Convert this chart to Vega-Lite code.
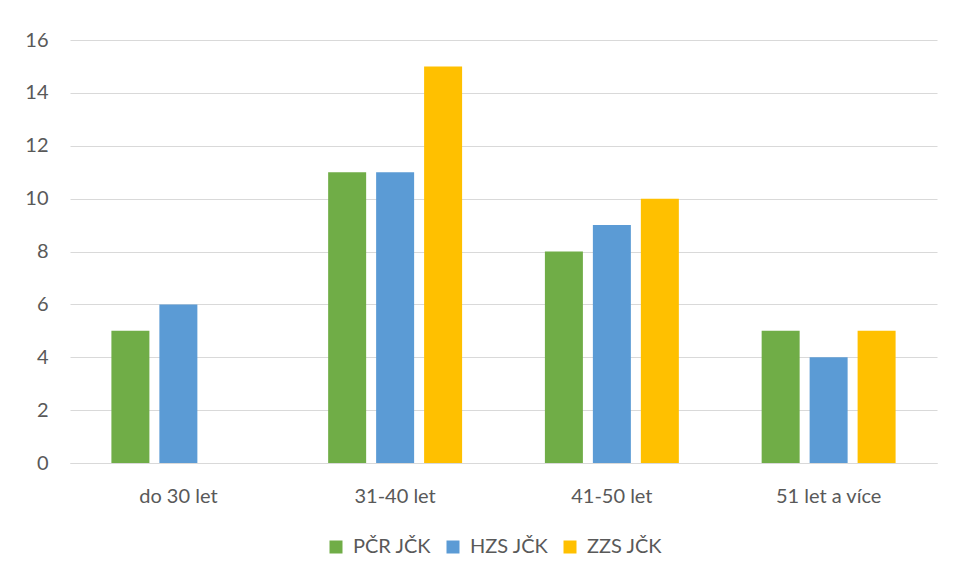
{
  "$schema": "https://vega.github.io/schema/vega-lite/v6.json",
  "width": 867,
  "height": 423,
  "autosize": {"type": "none"},
  "padding": {"left": 70, "top": 40, "right": 18, "bottom": 116},
  "background": "white",
  "data": {
    "values": [
      {"vek": "do 30 let", "slozka": "PČR JČK", "pocet": 5},
      {"vek": "do 30 let", "slozka": "HZS JČK", "pocet": 6},
      {"vek": "31-40 let", "slozka": "PČR JČK", "pocet": 11},
      {"vek": "31-40 let", "slozka": "HZS JČK", "pocet": 11},
      {"vek": "31-40 let", "slozka": "ZZS JČK", "pocet": 15},
      {"vek": "41-50 let", "slozka": "PČR JČK", "pocet": 8},
      {"vek": "41-50 let", "slozka": "HZS JČK", "pocet": 9},
      {"vek": "41-50 let", "slozka": "ZZS JČK", "pocet": 10},
      {"vek": "51 let a více", "slozka": "PČR JČK", "pocet": 5},
      {"vek": "51 let a více", "slozka": "HZS JČK", "pocet": 4},
      {"vek": "51 let a více", "slozka": "ZZS JČK", "pocet": 5}
    ]
  },
  "mark": {"type": "bar"},
  "encoding": {
    "x": {
      "field": "vek",
      "type": "nominal",
      "sort": ["do 30 let", "31-40 let", "41-50 let", "51 let a více"],
      "scale": {"paddingInner": 0.382, "paddingOuter": 0.191},
      "axis": {
        "title": null,
        "labelAngle": 0,
        "ticks": false,
        "domain": true,
        "domainColor": "#D9D9D9",
        "labelFont": "Lato",
        "labelFontSize": 20,
        "labelColor": "#595959",
        "labelPadding": 23
      }
    },
    "xOffset": {
      "field": "slozka",
      "type": "nominal",
      "sort": ["PČR JČK", "HZS JČK", "ZZS JČK"],
      "scale": {"paddingInner": 0.208, "paddingOuter": 0}
    },
    "y": {
      "field": "pocet",
      "type": "quantitative",
      "scale": {"domain": [0, 16], "nice": false},
      "axis": {
        "title": null,
        "values": [0, 2, 4, 6, 8, 10, 12, 14, 16],
        "domain": false,
        "ticks": false,
        "grid": true,
        "gridColor": "#D9D9D9",
        "gridWidth": 1,
        "labelFont": "Lato",
        "labelFontSize": 20,
        "labelColor": "#595959",
        "labelPadding": 22
      }
    },
    "color": {
      "field": "slozka",
      "type": "nominal",
      "sort": ["PČR JČK", "HZS JČK", "ZZS JČK"],
      "scale": {"domain": ["PČR JČK", "HZS JČK", "ZZS JČK"], "range": ["#70AD47", "#5B9BD5", "#FFC000"]},
      "legend": {
        "title": null,
        "orient": "none",
        "legendX": 256,
        "legendY": 497,
        "direction": "horizontal",
        "symbolType": "square",
        "symbolSize": 169,
        "symbolStrokeWidth": 0,
        "labelFont": "Lato",
        "labelFontSize": 20,
        "labelColor": "#595959",
        "labelOffset": 7,
        "columnPadding": 11
      }
    }
  },
  "config": {
    "view": {"stroke": null}
  }
}
